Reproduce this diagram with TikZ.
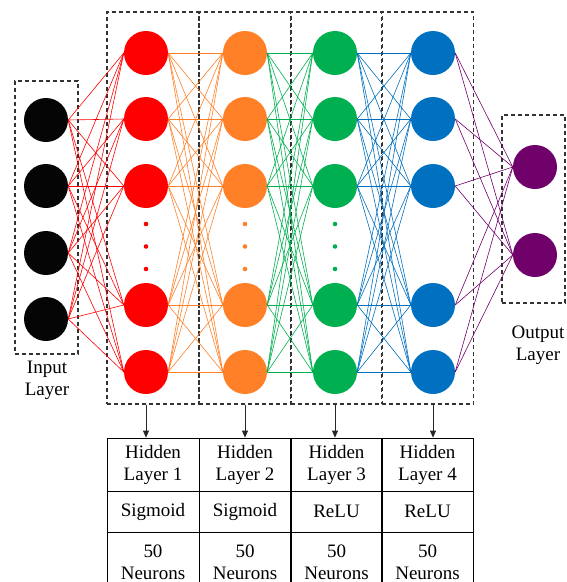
\documentclass[tikz,border=0pt]{standalone}
\usepackage{fontspec}
\setmainfont{Liberation Serif}
\usetikzlibrary{positioning,arrows.meta,calc}
\definecolor{nred}{RGB}{255,0,0}
\definecolor{norange}{RGB}{255,128,39}
\definecolor{ngreen}{RGB}{0,176,80}
\definecolor{nblue}{RGB}{0,112,192}
\definecolor{npurple}{RGB}{112,0,106}
\begin{document}
\begin{tikzpicture}[x=1pt,y=-1pt,
  neuron/.style={circle,minimum size=44pt,inner sep=0pt},
  layerbox/.style={draw=black!80,dash pattern=on 4pt off 3pt,line width=1.1pt,inner sep=0pt},
  link/.style={line width=0.6pt},
  cell/.style={draw,line width=0.8pt,minimum width=92pt,inner sep=0pt,align=center,font=\fontsize{19}{22}\selectfont},
  lbl/.style={align=center,font=\fontsize{19}{22}\selectfont}]
\useasboundingbox (0,0) rectangle (567,582);

\node[layerbox,minimum width=63pt,minimum height=273pt] (box0) at (46.5,217.5) {};
\foreach \x [count=\l] in {153,245,336.5,427.5}
  \node[layerbox,minimum width=92pt,minimum height=392pt] (box\l) at (\x,208) {};
\node[layerbox,minimum width=63pt,minimum height=188pt] (box5) at (533.5,209) {};

\foreach \y [count=\i] in {120,186,253,319}
  \node[neuron,fill=black!98] (in\i) at (46,\y) {};
\foreach \x/\c [count=\l] in {146/nred,245/norange,335/ngreen,433/nblue}
  \foreach \y [count=\i] in {53,119,186,305,372}
    \node[neuron,fill=\c] (h\l-\i) at (\x,\y) {};
\node[neuron,fill=npurple] (out1) at (535,167) {};
\node[neuron,fill=npurple] (out2) at (535,255) {};

\foreach \x/\c in {146/nred,245/norange,335/ngreen}
  \foreach \y in {224,246.5,269}
    \fill[\c] (\x,\y) circle (2.3pt);

\foreach \i in {1,...,4}
  \foreach \j in {1,...,5}
    \draw[link,nred] (in\i.east) -- (h1-\j.west);
\foreach \l/\m/\c in {1/2/norange,2/3/ngreen,3/4/nblue}
  \foreach \i in {1,...,5}
    \foreach \j in {1,...,5}
      \draw[link,\c] (h\l-\i.east) -- (h\m-\j.west);
\foreach \i in {1,...,5}
  \foreach \j in {1,2}
    \draw[link,npurple] (h4-\i.east) -- (out\j.west);

\node[lbl] (inlbl) at (47,380) {Input\\Layer};
\node[lbl] (outlbl) at (538,345) {Output\\Layer};

\foreach \x/\f [count=\l] in {153/Sigmoid,245/Sigmoid,336.5/ReLU,427.5/ReLU}{
  \node[cell,minimum height=53pt] (name\l) at (\x,464.5) {Hidden\\Layer \l};
  \node[cell,minimum height=41pt] (act\l) at (\x,511.5) {\f};
  \node[cell,minimum height=60pt] (size\l) at (\x,562) {50\\Neurons};
  \draw[line width=0.8pt,black!85,-{Triangle[length=7pt,width=6pt]}] (h\l-5 |- box\l.south) -- (h\l-5 |- name\l.north);
}
\end{tikzpicture}
\end{document}
